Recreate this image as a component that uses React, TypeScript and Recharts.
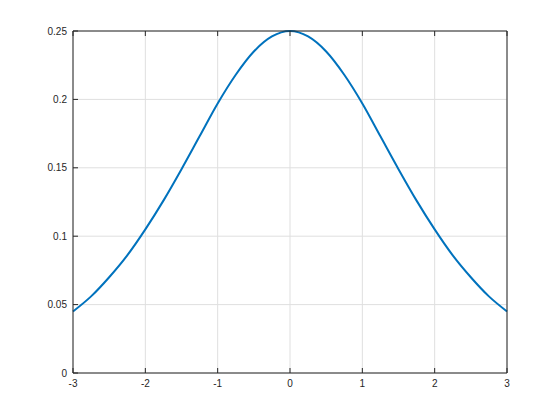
import React from "react";
import { LineChart, Line, XAxis, YAxis, CartesianGrid } from "recharts";

const xs = [-3, -2.75, -2.5, -2.25, -2, -1.75, -1.5, -1.25, -1, -0.75, -0.5, -0.25, 0, 0.25, 0.5, 0.75, 1, 1.25, 1.5, 1.75, 2, 2.25, 2.5, 2.75, 3];
const ys = [0.045, 0.056, 0.07, 0.086, 0.105, 0.126, 0.149, 0.173, 0.197, 0.218, 0.235, 0.246, 0.25, 0.246, 0.235, 0.218, 0.197, 0.173, 0.149, 0.126, 0.105, 0.086, 0.07, 0.056, 0.045];
const xTicks = [-3, -2, -1, 0, 1, 2, 3];
const yTicks = [0, 0.05, 0.1, 0.15, 0.2, 0.25];

const data = xs.map((x, i) => ({ x, y: ys[i] }));

const FONT = "'Liberation Sans', Arial, sans-serif";
const TXT = "#262626";

// ticks are drawn inward, MATLAB-style, from the label anchor point
const BottomTick = (props: any) => {
  const { x, y, payload } = props;
  return (
    <g>
      <line x1={x} x2={x} y1={y - 6} y2={y - 11} stroke="#262626" />
      <text x={x} y={y + 8} textAnchor="middle" fontSize={10} fontFamily={FONT} fill={TXT}>
        {payload.value}
      </text>
    </g>
  );
};

const TopTick = (props: any) => {
  const { x, y } = props;
  return <line x1={x} x2={x} y1={y + 6} y2={y + 11} stroke="#262626" />;
};

const LeftTick = (props: any) => {
  const { x, y, payload } = props;
  return (
    <g>
      <line x1={x + 6} x2={x + 11} y1={y} y2={y} stroke="#262626" />
      <text x={x} y={y + 3.5} textAnchor="end" fontSize={10} fontFamily={FONT} fill={TXT}>
        {payload.value}
      </text>
    </g>
  );
};

const RightTick = (props: any) => {
  const { x, y } = props;
  return <line x1={x - 6} x2={x - 11} y1={y} y2={y} stroke="#262626" />;
};

export default function App() {
  return (
    <div style={{ position: "absolute", left: 0, top: 0, width: 560, height: 420, background: "#fff" }}>
      <LineChart width={560} height={420} data={data} margin={{ top: 30, right: 52, bottom: 46, left: 72 }}>
        <CartesianGrid stroke="#dfdfdf" horizontalValues={yTicks} verticalValues={xTicks} />
        <XAxis
          dataKey="x"
          type="number"
          domain={[-3, 3]}
          ticks={xTicks}
          height={1}
          tickSize={0}
          tickMargin={6}
          tickLine={false}
          axisLine={{ stroke: "#262626" }}
          tick={<BottomTick />}
          interval={0}
        />
        <XAxis
          xAxisId="top"
          orientation="top"
          dataKey="x"
          type="number"
          domain={[-3, 3]}
          ticks={xTicks}
          height={1}
          tickSize={0}
          tickMargin={6}
          tickLine={false}
          axisLine={{ stroke: "#262626" }}
          tick={<TopTick />}
          interval={0}
        />
        <YAxis
          type="number"
          domain={[0, 0.25]}
          ticks={yTicks}
          width={1}
          tickSize={0}
          tickMargin={6}
          tickLine={false}
          axisLine={{ stroke: "#262626" }}
          tick={<LeftTick />}
          interval={0}
        />
        <YAxis
          yAxisId="right"
          orientation="right"
          type="number"
          domain={[0, 0.25]}
          ticks={yTicks}
          width={1}
          tickSize={0}
          tickMargin={6}
          tickLine={false}
          axisLine={{ stroke: "#262626" }}
          tick={<RightTick />}
          interval={0}
        />
        <Line
          type="monotone"
          dataKey="y"
          stroke="#0072bd"
          strokeWidth={2}
          dot={false}
          isAnimationActive={false}
        />
      </LineChart>
    </div>
  );
}
